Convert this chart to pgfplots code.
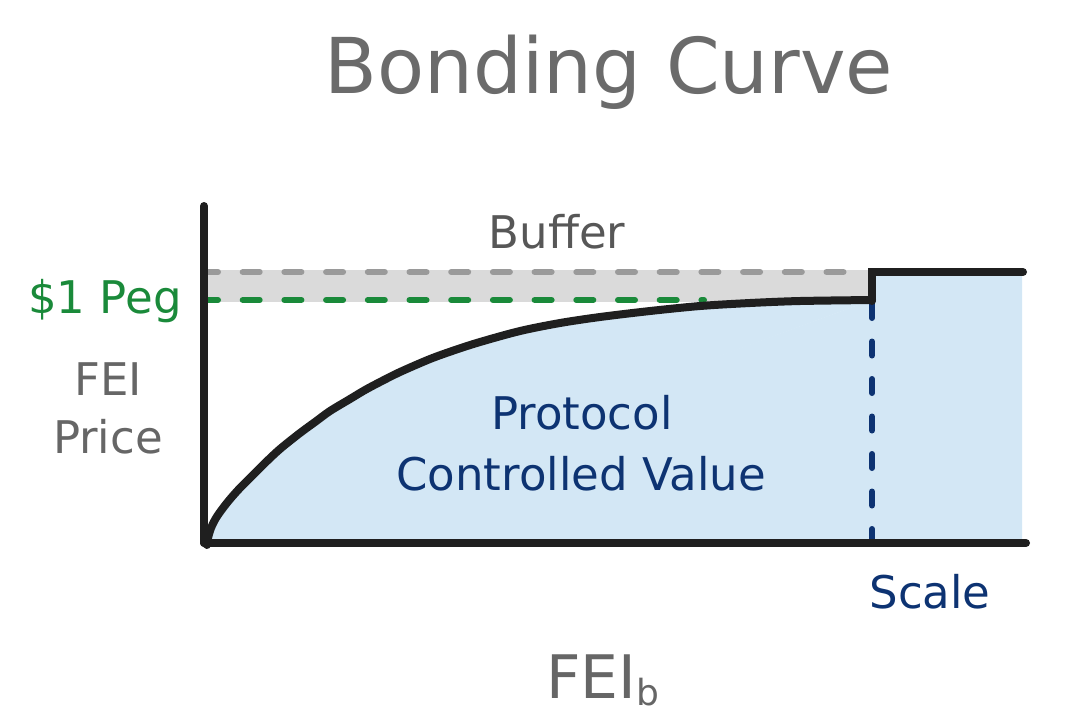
\documentclass[border=0pt]{standalone}
\usepackage{fontspec}
\setmainfont{DejaVu Sans}
\usepackage{pgfplots}
\usepackage{pgfplotstable}
\pgfplotsset{compat=1.18}
\definecolor{titlegray}{HTML}{6B6B6B}
\definecolor{labgray}{HTML}{666666}
\definecolor{bufgray}{HTML}{575757}
\definecolor{peggreen}{HTML}{1A8A3A}
\definecolor{navy}{HTML}{0D3372}
\definecolor{pcvblue}{HTML}{D3E7F5}
\definecolor{bandgray}{HTML}{DADADA}
\definecolor{dashgray}{HTML}{9A9A9A}
\definecolor{ink}{HTML}{1F1F1F}
\pgfplotstableread{
x y
207 545
208 538
211 528
216 518
223 508
231 498
240 488
250 478
265 463
280 449
300 433
315 422
330 411
350 399
365 390
380 382
400 372
430 359
455 350
480 342
520 331
560 323
600 317
650 311
700 306
750 303
800 301
872 300
}\curvedata
\begin{document}
\begin{tikzpicture}
\begin{axis}[
  scale only axis, width=540pt, height=362pt,
  xmin=0, xmax=1080, ymin=0, ymax=724, y dir=reverse,
  axis lines=none, clip=false,
  every axis plot/.append style={mark=none},
]
\path (axis cs:0,0) rectangle (axis cs:1080,724);
% PCV fill
\addplot[fill=pcvblue, draw=none, smooth, tension=0.5] table {\curvedata};
\addplot[fill=pcvblue, draw=none] coordinates {(207,543) (872,300) (872,272) (1022,272) (1022,543)};
\addplot[fill=pcvblue, draw=none] coordinates {(207,543) (207,545) (872,300) (872,543)};
% buffer band
\addplot[fill=bandgray, draw=none] coordinates {(207,270) (872,270) (872,302) (207,302)};
% gray dashed line
\addplot[dashgray, line width=3pt, line cap=round, dash pattern=on 8.5pt off 12.35pt, dash phase=3pt]
 coordinates {(207,272) (866,272)};
% green dashed line
\addplot[peggreen, line width=3pt, line cap=round, dash pattern=on 8.5pt off 12.35pt, dash phase=3pt]
 coordinates {(207,300) (704,300)};
% navy dashed vertical
\addplot[navy, line width=3pt, line cap=round, dash pattern=on 7pt off 11.75pt]
 coordinates {(872,304) (872,540)};
% bonding curve
\addplot[ink, line width=4pt, line cap=round, line join=round, smooth, tension=0.5] table {\curvedata};
% step
\addplot[ink, line width=4pt, line cap=round, line join=miter] coordinates {(872,301) (872,272) (1023,272)};
% axes
\addplot[ink, line width=4pt, line cap=round] coordinates {(204,206) (204,543)};
\addplot[ink, line width=4pt, line cap=round] coordinates {(204,543) (1026,543)};
% texts
\node[anchor=base, text=titlegray, font=\fontsize{38.5}{46}\selectfont] at (axis cs:609,93) {Bonding Curve};
\node[anchor=base, text=bufgray, font=\fontsize{22.5}{27}\selectfont] at (axis cs:557,248) {Buffer};
\node[anchor=base, text=peggreen, font=\fontsize{22.5}{27}\selectfont] at (axis cs:105,313) {\$1 Peg};
\node[anchor=base, text=labgray, font=\fontsize{22.5}{27}\selectfont] at (axis cs:108,395) {FEI};
\node[anchor=base, text=labgray, font=\fontsize{22.5}{27}\selectfont] at (axis cs:108,453) {Price};
\node[anchor=base, text=navy, font=\fontsize{22.5}{27}\selectfont] at (axis cs:582,429) {Protocol};
\node[anchor=base, text=navy, font=\fontsize{22.5}{27}\selectfont] at (axis cs:581,490) {Controlled Value};
\node[anchor=base, text=navy, font=\fontsize{22.5}{27}\selectfont] at (axis cs:930,608) {Scale};
\node[anchor=base west, inner sep=0pt, text=labgray, font=\fontsize{30}{36}\selectfont] at (axis cs:546,698) {FEI\raisebox{-3.5pt}{\fontsize{18}{20}\selectfont b}};
\end{axis}
\end{tikzpicture}
\end{document}
